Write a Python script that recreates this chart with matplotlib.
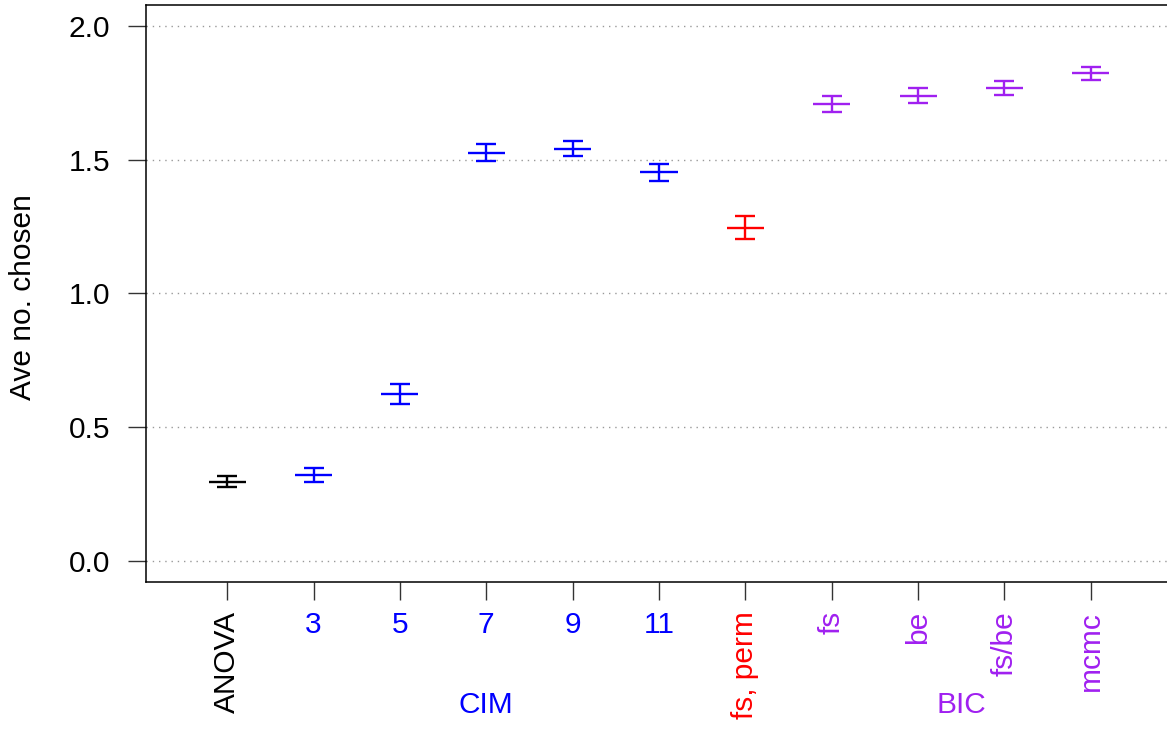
import numpy as np
import matplotlib
matplotlib.use('Agg')
import matplotlib.pyplot as plt

plt.rcParams['font.family'] = ['Liberation Sans', 'DejaVu Sans']

# Data
methods = ['ANOVA', '3', '5', '7', '9', '11', 'fs, perm', 'fs', 'be', 'fs/be', 'mcmc']
means = [0.296, 0.321, 0.624, 1.527, 1.542, 1.454, 1.247, 1.709, 1.740, 1.768, 1.825]
se = [0.020, 0.025, 0.036, 0.031, 0.028, 0.031, 0.043, 0.029, 0.028, 0.026, 0.024]
cols = ['black', 'blue', 'blue', 'blue', 'blue', 'blue', 'red',
        '#A020F0', '#A020F0', '#A020F0', '#A020F0']
groups = ['CIM', 'BIC']
group_span = [(2, 6), (8, 11)]
group_cols = ['blue', '#A020F0']

x = np.arange(1, len(methods) + 1)
fs = 21.5

fig = plt.figure(figsize=(11.67, 7.3), dpi=100)
ax = fig.add_axes([146/1167, 1 - 582/730, 1026/1167, 577/730])

# dotted grid
for yv in [0, 0.5, 1.0, 1.5, 2.0]:
    ax.axhline(yv, color='#999999', lw=1, ls=(0, (1, 3.5)), zorder=0)

for xi, m, s, c in zip(x, means, se, cols):
    ax.hlines(m, xi - 0.215, xi + 0.215, color=c, lw=1.7)
    ax.errorbar(xi, m, yerr=s, fmt='none', ecolor=c, elinewidth=1.7,
                capsize=6.9, capthick=1.7)

ax.set_xlim(0.06, 11.94)
ax.set_ylim(-0.08, 2.08)
ax.set_yticks([0, 0.5, 1.0, 1.5, 2.0])
ax.set_yticklabels(['0.0', '0.5', '1.0', '1.5', '2.0'])
ax.set_xticks(x)
ax.set_xticklabels(methods)
for lab, c, name in zip(ax.get_xticklabels(), cols, methods):
    lab.set_color(c)
    if not name.isdigit():
        lab.set_rotation(90)
    lab.set_va('top')

ax.tick_params(axis='both', length=13, width=1, color='#333333',
               labelsize=fs, pad=8)
ax.tick_params(axis='y', pad=13)
for sp in ax.spines.values():
    sp.set_linewidth(1.1)

fig.text(23/1167, 1 - 297/730, 'Ave no. chosen',
         rotation=90, ha='center', va='center', fontsize=fs)

for g, (a, b), c in zip(groups, group_span, group_cols):
    ax.text((a + b) / 2, -(705 - 582) / 577, g, transform=ax.get_xaxis_transform(),
            ha='center', va='center', color=c, fontsize=fs)

fig.savefig('out.png', dpi=100)
